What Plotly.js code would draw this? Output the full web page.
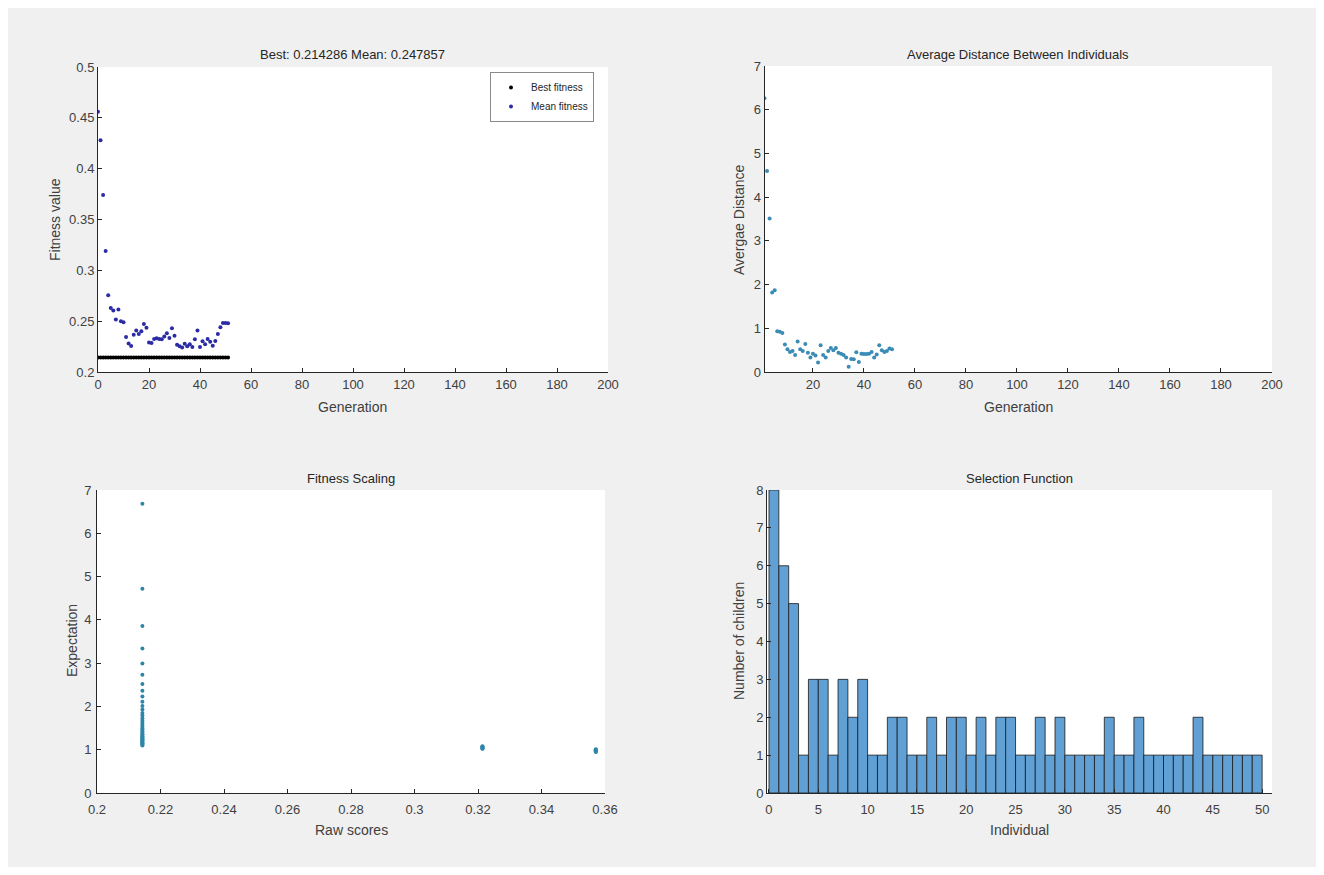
<!DOCTYPE html>
<html>
<head>
<meta charset="utf-8">
<script src="https://cdn.plot.ly/plotly-3.0.1.min.js"></script>
<style>
html,body{margin:0;padding:0;background:#ffffff;}
#chart{width:1324px;height:875px;}
</style>
</head>
<body>
<div id="chart"></div>
<script>
// ---------- data ----------
const generations = [0,1,2,3,4,5,6,7,8,9,10,11,12,13,14,15,16,17,18,19,20,21,22,23,24,25,26,27,28,29,30,31,32,33,34,35,36,37,38,39,40,41,42,43,44,45,46,47,48,49,50,51];
const bestFitness = [0.2143,0.2143,0.2143,0.2143,0.2143,0.2143,0.2143,0.2143,0.2143,0.2143,0.2143,0.2143,0.2143,0.2143,0.2143,0.2143,0.2143,0.2143,0.2143,0.2143,0.2143,0.2143,0.2143,0.2143,0.2143,0.2143,0.2143,0.2143,0.2143,0.2143,0.2143,0.2143,0.2143,0.2143,0.2143,0.2143,0.2143,0.2143,0.2143,0.2143,0.2143,0.2143,0.2143,0.2143,0.2143,0.2143,0.2143,0.2143,0.2143,0.2143,0.2143,0.2143];
const meanFitness = [0.456,0.428,0.374,0.319,0.2755,0.263,0.2605,0.2516,0.2615,0.250,0.249,0.2345,0.228,0.2256,0.2367,0.2407,0.2374,0.240,0.2472,0.2436,0.229,0.2285,0.2325,0.2331,0.2325,0.2321,0.235,0.238,0.2334,0.243,0.2357,0.2269,0.2253,0.224,0.2279,0.2253,0.2272,0.2246,0.2321,0.2407,0.2246,0.2302,0.2272,0.2325,0.2298,0.2259,0.2305,0.2374,0.244,0.2482,0.2482,0.2479];

const distGenerations = [1,2,3,4,5,6,7,8,9,10,11,12,13,14,15,16,17,18,19,20,21,22,23,24,25,26,27,28,29,30,31,32,33,34,35,36,37,38,39,40,41,42,43,44,45,46,47,48,49,50,51];
const avgDistance = [6.26,4.6,3.51,1.82,1.87,0.93,0.92,0.89,0.63,0.52,0.46,0.48,0.39,0.70,0.52,0.48,0.64,0.44,0.33,0.42,0.38,0.22,0.61,0.39,0.33,0.48,0.55,0.50,0.55,0.44,0.42,0.39,0.33,0.12,0.30,0.29,0.45,0.23,0.42,0.41,0.41,0.42,0.46,0.33,0.40,0.61,0.50,0.46,0.48,0.54,0.52];

const rawScores = [0.2143,0.2143,0.2143,0.2143,0.2143,0.2143,0.2143,0.2143,0.2143,0.2143,0.2143,0.2143,0.2143,0.2143,0.2143,0.2143,0.2143,0.2143,0.2143,0.2143,0.2143,0.2143,0.2143,0.2143,0.2143,0.2143,0.2143,0.2143,0.2143,0.2143,0.2143,0.2143,0.2143,0.2143,0.2143,0.2143,0.2143,0.3214,0.3214,0.3214,0.3214,0.3214,0.3214,0.3571,0.3571,0.3571,0.3571,0.3571,0.3571,0.3571];
const expectation = [6.68,4.72,3.86,3.34,2.99,2.73,2.52,2.36,2.23,2.11,2.01,1.93,1.85,1.79,1.72,1.67,1.62,1.57,1.53,1.49,1.46,1.42,1.39,1.36,1.34,1.31,1.29,1.26,1.24,1.22,1.20,1.18,1.16,1.15,1.13,1.11,1.10,1.08,1.07,1.06,1.04,1.03,1.02,1.01,1.00,0.99,0.98,0.97,0.96,0.95];

const individuals = [1,2,3,4,5,6,7,8,9,10,11,12,13,14,15,16,17,18,19,20,21,22,23,24,25,26,27,28,29,30,31,32,33,34,35,36,37,38,39,40,41,42,43,44,45,46,47,48,49,50];
const children = [8,6,5,1,3,3,1,3,2,3,1,1,2,2,1,1,2,1,2,2,1,2,1,2,2,1,1,2,1,2,1,1,1,1,2,1,1,2,1,1,1,1,1,2,1,1,1,1,1,1];

const xTicksGen = [0,20,40,60,80,100,120,140,160,180,200];
const yTicksFit = [0.2,0.25,0.3,0.35,0.4,0.45,0.5];
const yTicksFitText = ['0.2','0.25','0.3','0.35','0.4','0.45','0.5'];
const xTicksRaw = [0.2,0.22,0.24,0.26,0.28,0.3,0.32,0.34,0.36];
const xTicksRawText = ['0.2','0.22','0.24','0.26','0.28','0.3','0.32','0.34','0.36'];

// ---------- layout helpers ----------
const W = 1324, H = 875;
const px = v => v / W;
const py = v => 1 - v / H;
const FONT = 'Liberation Sans, Arial, sans-serif';
const tickFont = {family: FONT, size: 13, color: '#404040'};
const axisBase = {
  showline: true, linecolor: '#262626', linewidth: 1, mirror: false,
  ticks: 'inside', ticklen: 4, tickcolor: '#262626', tickwidth: 1,
  showgrid: false, zeroline: false, tickfont: tickFont, fixedrange: true
};

const traces = [
  {x: generations, y: bestFitness, type: 'scatter', mode: 'markers', name: 'Best fitness',
   marker: {color: '#000000', size: 4}, xaxis: 'x', yaxis: 'y'},
  {x: generations, y: meanFitness, type: 'scatter', mode: 'markers', name: 'Mean fitness',
   marker: {color: '#2b2ba6', size: 4}, xaxis: 'x', yaxis: 'y'},
  {x: distGenerations, y: avgDistance, type: 'scatter', mode: 'markers', showlegend: false,
   marker: {color: '#3a8bb5', size: 4}, xaxis: 'x2', yaxis: 'y2'},
  {x: rawScores, y: expectation, type: 'scatter', mode: 'markers', showlegend: false,
   marker: {color: '#2c86a8', size: 4}, xaxis: 'x3', yaxis: 'y3'},
  {x: individuals, y: children, type: 'bar', showlegend: false, width: 1, offset: -1,
   marker: {color: 'rgb(96,160,212)', line: {color: '#1a1a1a', width: 0.8}}, xaxis: 'x4', yaxis: 'y4'}
];

function ann(text, x, y, opts) {
  return Object.assign({text: text, x: px(x), y: py(y), xref: 'paper', yref: 'paper',
    showarrow: false, xanchor: 'center', yanchor: 'middle',
    font: {family: FONT, size: 13, color: '#262626'}}, opts || {});
}
const labFont = {family: FONT, size: 14, color: '#404040'};

const layout = {
  width: W, height: H,
  margin: {l: 0, r: 0, t: 0, b: 0},
  paper_bgcolor: '#f0f0f0', plot_bgcolor: '#ffffff',
  bargap: 0,
  xaxis: Object.assign({}, axisBase, {domain: [px(98), px(608)], range: [0, 200], tickvals: xTicksGen, anchor: 'y'}),
  yaxis: Object.assign({}, axisBase, {domain: [py(372), py(67)], range: [0.2, 0.5], tickvals: yTicksFit, ticktext: yTicksFitText, anchor: 'x'}),
  xaxis2: Object.assign({}, axisBase, {domain: [px(764.5), px(1272)], range: [1, 200], tickvals: xTicksGen.slice(1), anchor: 'y2'}),
  yaxis2: Object.assign({}, axisBase, {domain: [py(372), py(66)], range: [0, 7], dtick: 1, anchor: 'x2'}),
  xaxis3: Object.assign({}, axisBase, {domain: [px(97), px(605)], range: [0.2, 0.36], tickvals: xTicksRaw, ticktext: xTicksRawText, anchor: 'y3', ticklabelstandoff: 4}),
  yaxis3: Object.assign({}, axisBase, {domain: [py(793), py(490)], range: [0, 7], dtick: 1, anchor: 'x3', ticklabelstandoff: 2}),
  xaxis4: Object.assign({}, axisBase, {domain: [px(767), px(1272)], range: [-0.2, 51], dtick: 5, tick0: 0, anchor: 'y4', ticklabelstandoff: 4}),
  yaxis4: Object.assign({}, axisBase, {domain: [py(793), py(490)], range: [0, 8], dtick: 1, anchor: 'x4'}),
  showlegend: true,
  legend: {x: px(594), y: py(72), xanchor: 'right', yanchor: 'top',
    bgcolor: '#ffffff', bordercolor: '#8a8a8a', borderwidth: 1,
    font: {family: FONT, size: 10, color: '#262626'},
    itemwidth: 30, tracegroupgap: 0},
  annotations: [
    ann('Best: 0.214286 Mean: 0.247857', 353, 55),
    ann('Average Distance Between Individuals', 1018, 55),
    ann('Fitness Scaling', 351, 479),
    ann('Selection Function', 1019, 479),
    ann('Generation', 353, 407, {font: labFont}),
    ann('Generation', 1018, 407, {font: labFont}),
    ann('Raw scores', 351, 830, {font: labFont}),
    ann('Individual', 1019, 830, {font: labFont}),
    ann('Fitness value', 55, 220, {textangle: -90, font: labFont}),
    ann('Avergae Distance', 739, 220, {textangle: -90, font: labFont}),
    ann('Expectation', 72, 641, {textangle: -90, font: labFont}),
    ann('Number of children', 739, 641, {textangle: -90, font: labFont})
  ],
  shapes: [
    {type: 'rect', xref: 'paper', yref: 'paper', x0: 0, x1: px(8), y0: 0, y1: 1, fillcolor: '#ffffff', line: {width: 0}},
    {type: 'rect', xref: 'paper', yref: 'paper', x0: px(1316), x1: 1, y0: 0, y1: 1, fillcolor: '#ffffff', line: {width: 0}},
    {type: 'rect', xref: 'paper', yref: 'paper', x0: 0, x1: 1, y0: py(8), y1: 1, fillcolor: '#ffffff', line: {width: 0}},
    {type: 'rect', xref: 'paper', yref: 'paper', x0: 0, x1: 1, y0: 0, y1: py(867), fillcolor: '#ffffff', line: {width: 0}}
  ]
};

Plotly.newPlot('chart', traces, layout, {displayModeBar: false, staticPlot: true});
</script>
</body>
</html>
